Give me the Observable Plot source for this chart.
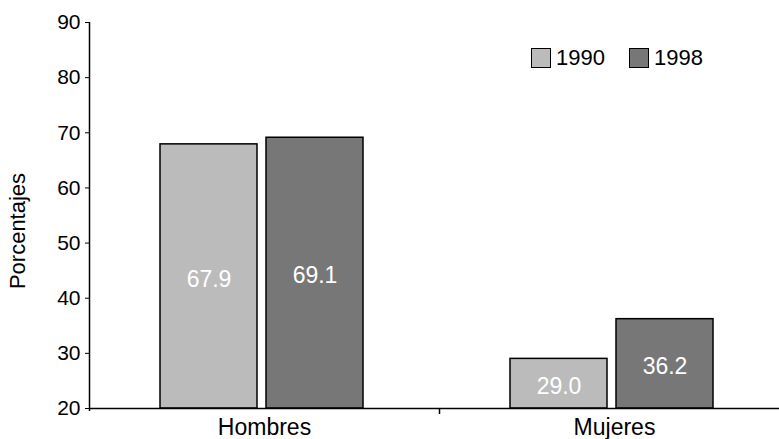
<!DOCTYPE html>
<html>
<head>
<meta charset="utf-8">
<script src="https://cdn.jsdelivr.net/npm/d3@7"></script>
<script src="https://cdn.jsdelivr.net/npm/@observablehq/plot@0.6"></script>
<style>
  html, body { margin: 0; padding: 0; background: #fff; overflow: hidden; }
  body { font-family: "Liberation Sans", Arial, sans-serif; }
  #wrap { position: relative; width: 779px; height: 439px; overflow: hidden; }
  #chart svg { max-width: none !important; display: block; }
  #legend { position: absolute; left: 531px; top: 48px; display: flex; align-items: center; font-size: 22px; color: #000; line-height: 20px; }
  #legend .item { display: flex; align-items: center; margin-right: 24px; }
  #legend .sw { width: 20px; height: 20px; box-sizing: border-box; border: 1.5px solid #000; margin-right: 5px; }
  #ylabel { position: absolute; left: 18px; top: 231px; transform: translate(-50%, -50%) rotate(-90deg); font-size: 22px; color: #000; white-space: nowrap; }
</style>
</head>
<body>
<div id="wrap">
  <div id="chart"></div>
  <div id="legend"></div>
  <div id="ylabel"></div>
</div>
<script>
// ---- data ----
const categories = ["Hombres", "Mujeres"];
const years = ["1990", "1998"];
const values1990 = [67.9, 29.0];
const values1998 = [69.1, 36.2];
const yDomain = [20, 90];
const yTicks = [20, 30, 40, 50, 60, 70, 80, 90];
const colors = ["#bbbbbb", "#777777"];
const yLabel = "Porcentajes";

const seriesValues = [values1990, values1998];
const table = [];
categories.forEach((c, i) => {
  years.forEach((y, j) => table.push({category: c, year: y, value: seriesValues[j][i]}));
});

// draws a rule at the left edge of each facet, extending below the baseline
const atFacetLeft = ext => function (index, scales, values, dimensions, context, next) {
  const g = next(index, scales, values, dimensions, context);
  d3.select(g).selectAll("line")
    .attr("x1", dimensions.marginLeft)
    .attr("x2", dimensions.marginLeft)
    .attr("y2", function () { return +this.getAttribute("y2") + ext; });
  return g;
};

const chart = Plot.plot({
  width: 789,
  height: 439,
  marginLeft: 89,
  marginRight: 0,
  marginTop: 22,
  marginBottom: 31,
  style: {fontFamily: "'Liberation Sans', Arial, sans-serif", fontSize: "21px", color: "#000", background: "transparent", overflow: "visible", maxWidth: "none"},
  fx: {domain: categories, padding: 0, label: null},
  x: {domain: years, paddingInner: 0.084, paddingOuter: 0.678, align: 0.483, axis: null},
  y: {domain: yDomain, ticks: yTicks, label: null},
  color: {domain: years, range: colors},
  marks: [
    Plot.axisFx({anchor: "bottom", tickSize: 0, tickPadding: 10, fontSize: 23, label: null}),
    Plot.axisY({ticks: yTicks, tickSize: 4, tickPadding: 5, fontSize: 21, label: null}),
    Plot.barY(table, {fx: "category", x: "year", y1: yDomain[0], y2: "value", fill: "year", stroke: "#000", strokeWidth: 1.5}),
    Plot.text(table, {fx: "category", x: "year", y: d => (yDomain[0] + d.value) / 2, dy: 3, text: d => d.value.toFixed(1), fill: "#fff", fontSize: 23}),
    Plot.ruleY([yDomain[0]], {stroke: "#000", strokeWidth: 1.5}),
    Plot.ruleX([categories[0]], {fx: d => d, x: null, y1: yDomain[1], y2: yDomain[0], stroke: "#000", strokeWidth: 1.5, render: atFacetLeft(3)}),
    Plot.ruleX(categories.slice(1), {fx: d => d, x: null, y1: yDomain[0], y2: yDomain[0], stroke: "#000", strokeWidth: 1.5, render: atFacetLeft(6)})
  ]
});
document.getElementById("chart").appendChild(chart);

// legend
const legend = d3.select("#legend");
years.forEach((y, i) => {
  const item = legend.append("div").attr("class", "item");
  item.append("div").attr("class", "sw").style("background", colors[i]);
  item.append("span").text(y);
});
d3.select("#ylabel").text(yLabel);
</script>
</body>
</html>
